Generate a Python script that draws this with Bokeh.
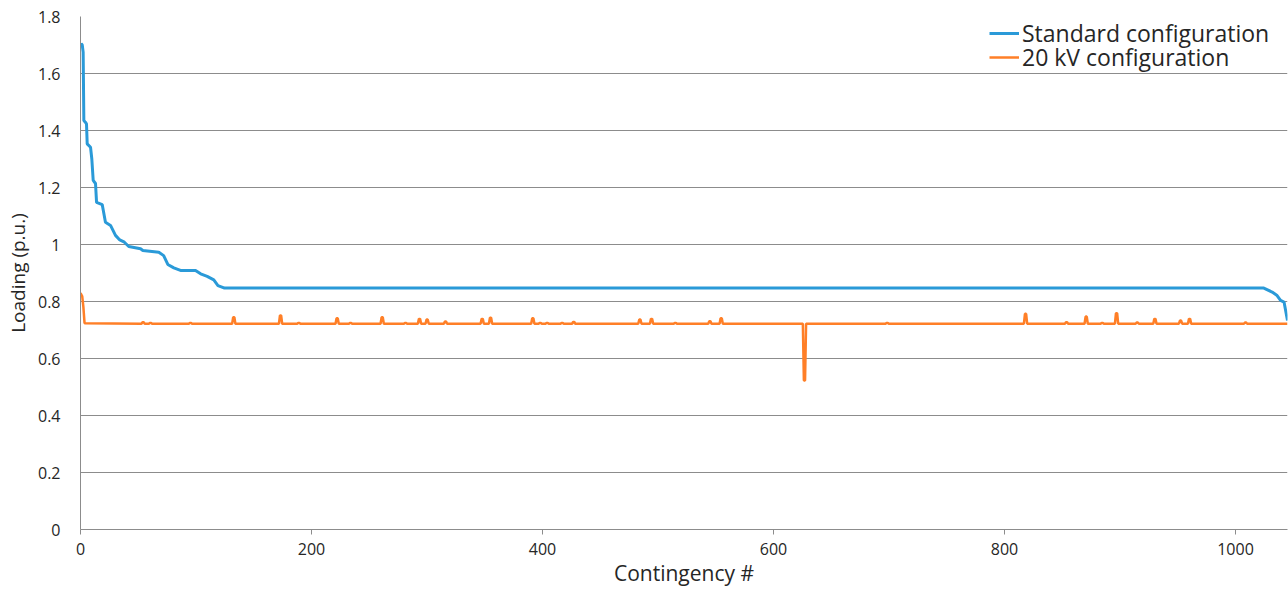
from bokeh.plotting import figure
from bokeh.models import Range1d, FixedTicker, CustomJSTickFormatter, Legend, LegendItem
from bokeh.embed import file_html
from bokeh.resources import INLINE

# Standard configuration: breakpoints (contingency #, loading p.u.)
std_x = [0, 0.6, 1.5, 2.3, 2.9, 4.0, 5.2, 5.8, 8.7, 9.8, 11.0, 13.0, 13.9, 18.8, 21.6, 26.0,
         30.3, 34.0, 38.0, 41.8, 52.0, 54.0, 67.8, 72.0, 75.6, 80.8, 86.6, 99.6, 104.0,
         109.7, 115.4, 119.0, 124.7, 1024.5, 1031.7, 1036.0, 1039.0, 1042.0, 1045.0]
std_y = [1.69, 1.705, 1.70, 1.675, 1.435, 1.43, 1.423, 1.353, 1.341, 1.30, 1.225, 1.214, 1.148,
         1.140, 1.078, 1.067, 1.032, 1.016, 1.008, 0.993, 0.985, 0.979, 0.973, 0.961, 0.930,
         0.918, 0.909, 0.909, 0.897, 0.888, 0.876, 0.856, 0.847, 0.847, 0.833, 0.821, 0.804,
         0.798, 0.733]

# 20 kV configuration: start, baseline, and spikes
kv_start_x = [0, 1.5, 2.5, 3.5]
kv_start_y = [0.830, 0.818, 0.78, 0.724]
kv_base = 0.722
kv_end_x = 1045
spike_x = [54.2, 60.6, 95.2, 132.7, 173.2, 189.0, 222.2, 233.8, 261.2, 281.4, 293.5, 300.1,
           316.0, 347.8, 355.0, 391.6, 398.0, 404.0, 417.0, 427.0, 484.3, 494.4, 515.0, 544.9,
           554.7, 626.8, 698.4, 818.2, 853.7, 870.7, 884.6, 897.0, 914.9, 930.2, 952.4, 960.2,
           1008.7]
spike_y = [0.727, 0.725, 0.725, 0.745, 0.751, 0.725, 0.741, 0.725, 0.745, 0.725, 0.739, 0.737,
           0.730, 0.739, 0.743, 0.741, 0.725, 0.725, 0.725, 0.728, 0.737, 0.739, 0.725, 0.731,
           0.741, 0.523, 0.725, 0.757, 0.727, 0.747, 0.725, 0.759, 0.726, 0.739, 0.733, 0.739,
           0.726]

y_ticks = [0, 0.2, 0.4, 0.6, 0.8, 1.0, 1.2, 1.4, 1.6, 1.8]
x_ticks = [0, 200, 400, 600, 800, 1000]

# build the orange path from the read values
kv_x = list(kv_start_x)
kv_y = list(kv_start_y)
for sx, sy in zip(spike_x, spike_y):
    kv_x += [sx - 1.4, sx - 0.5, sx + 0.5, sx + 1.4]
    kv_y += [kv_base, sy, sy, kv_base]
kv_x.append(kv_end_x)
kv_y.append(kv_base)

FONT = "Open Sans"
TXT = "#262626"
GRID = "#8c8c8c"

p = figure(width=1288, height=590, output_backend="svg", toolbar_location=None,
           x_range=Range1d(0, 1045), y_range=Range1d(0, 1.8),
           min_border_left=80, min_border_right=1, min_border_top=16, min_border_bottom=61)
p.outline_line_color = None
p.background_fill_color = "white"
p.border_fill_color = "white"

p.xgrid.grid_line_color = None
p.ygrid.grid_line_color = GRID
p.ygrid.grid_line_width = 1
p.ygrid.ticker = FixedTicker(ticks=y_ticks)

p.yaxis.ticker = FixedTicker(ticks=y_ticks)
p.yaxis.formatter = CustomJSTickFormatter(code="return tick.toFixed(1).replace(/\\.0$/, '');")
p.yaxis.major_tick_line_color = None
p.yaxis.major_tick_out = 0
p.yaxis.major_tick_in = 0
p.yaxis.minor_tick_line_color = None
p.yaxis.minor_tick_out = 0
p.yaxis.axis_line_color = GRID
p.yaxis.major_label_standoff = 20
p.yaxis.axis_label = "Loading (p.u.)"
p.yaxis.axis_label_standoff = 4

p.xaxis.ticker = FixedTicker(ticks=x_ticks)
p.xaxis.major_tick_line_color = GRID
p.xaxis.major_tick_out = 5
p.xaxis.major_tick_in = 0
p.xaxis.minor_tick_line_color = None
p.xaxis.minor_tick_out = 0
p.xaxis.axis_line_color = GRID
p.xaxis.major_label_standoff = 8
p.xaxis.axis_label = "Contingency #"
p.xaxis.axis_label_standoff = 1

for ax in (p.xaxis, p.yaxis):
    ax.major_label_text_font = FONT
    ax.major_label_text_font_size = "16px"
    ax.major_label_text_color = TXT
    ax.axis_label_text_font = FONT
    ax.axis_label_text_font_style = "normal"
    ax.axis_label_text_color = TXT
p.xaxis.axis_label_text_font_size = "21px"
p.yaxis.axis_label_text_font_size = "19px"

r1 = p.line(std_x, std_y, line_color="#2a9ad8", line_width=3)
r2 = p.line(kv_x, kv_y, line_color="#ff7f27", line_width=2.5)

legend_style = dict(border_line_color=None, background_fill_alpha=0,
                    label_text_font=FONT, label_text_font_size="23px", label_text_color=TXT,
                    glyph_width=30, label_standoff=3, spacing=0, padding=2, margin=0,
                    label_height=24, glyph_height=24)
leg1 = Legend(items=[LegendItem(label="Standard configuration", renderers=[r1])],
              location=(909, 480), **legend_style)
leg2 = Legend(items=[LegendItem(label="20 kV configuration", renderers=[r2])],
              location=(909, 456), **legend_style)
p.add_layout(leg1)
p.add_layout(leg2)

open("out.html", "w").write(file_html(p, INLINE))
